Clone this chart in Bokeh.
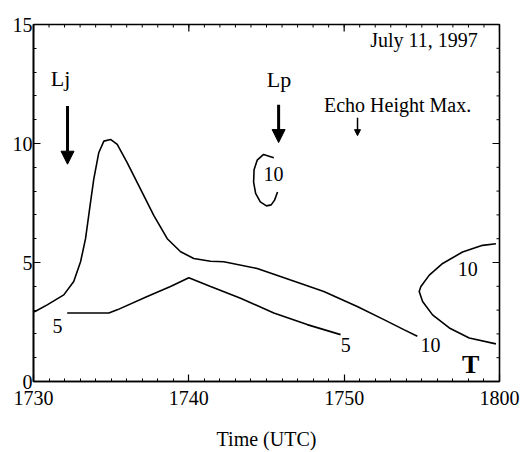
import math
from bokeh.plotting import figure
from bokeh.models import Range1d, FixedTicker, Arrow, NormalHead
from bokeh.core.properties import value
from bokeh.embed import file_html
from bokeh.resources import INLINE

# ---- data (x = minutes after 1730 UTC, y = height km) ----
x_ticks = [0, 10, 20, 30]
x_tick_labels = ["1730", "1740", "1750", "1800"]
y_ticks = [0, 5, 10, 15]
x_minor = list(range(0, 31))
y_minor = list(range(0, 16))

# outer "10" contour
c10_x = [0.0, 0.13, 0.88, 1.95, 2.59, 3.03, 3.35, 3.67, 3.88, 4.20, 4.53, 4.96, 5.39,
         6.03, 6.89, 7.75, 8.61, 9.47, 10.32, 11.40, 12.25, 14.40, 16.55, 18.69,
         20.84, 22.56, 23.84, 24.71]
c10_y = [2.92, 2.95, 3.22, 3.64, 4.20, 5.03, 6.00, 7.53, 8.50, 9.61, 10.10, 10.17, 9.96,
         9.20, 8.08, 6.97, 6.00, 5.45, 5.17, 5.05, 5.03, 4.75, 4.26, 3.78,
         3.15, 2.60, 2.18, 1.90]

# "5" contour
c5_x = [2.17, 4.85, 5.39, 7.32, 8.82, 10.00, 11.40, 13.33, 15.47, 17.62, 19.77]
c5_y = [2.88, 2.88, 3.01, 3.57, 3.99, 4.36, 3.99, 3.50, 2.88, 2.39, 1.97]

# right "10" contour
r10_x = [29.77, 28.91, 27.62, 26.34, 25.48, 24.94, 24.83, 25.05, 25.69, 26.77, 28.05, 29.77]
r10_y = [5.79, 5.72, 5.44, 4.96, 4.47, 3.99, 3.78, 3.36, 2.80, 2.25, 1.83, 1.58]

# small "10" contour
s10_x = [15.47, 14.81, 14.40, 14.20, 14.17, 14.30, 14.60, 15.00, 15.30, 15.52, 15.71]
s10_y = [9.40, 9.54, 9.30, 8.90, 8.38, 7.90, 7.55, 7.38, 7.42, 7.62, 7.96]

# contour labels
lab_x = [1.55, 20.10, 25.56, 27.95, 15.45]
lab_y = [2.33, 1.54, 1.54, 4.71, 8.71]
lab_text = ["5", "5", "10", "10", "10"]

# annotation texts
note_x = [1.74, 15.80]
note_y = [12.75, 12.67]
note_text = ["Lj", "Lp"]
echo_x, echo_y, echo_text = [23.44], [11.63], ["Echo Height Max."]
date_x, date_y, date_text = [28.6], [14.33], ["July 11, 1997"]
t_x, t_y, t_text = [28.14], [0.71], ["T"]

# arrows (x, y_start, y_end)
big_arrow_x = [2.19, 15.78]
big_arrow_y0 = [11.58, 11.63]
big_arrow_y1 = [9.13, 10.04]
small_arrow_x = [20.86]
small_arrow_y0 = [11.08]
small_arrow_y1 = [10.33]

FONT = "Liberation Serif"

p = figure(width=524, height=452, output_backend="svg", toolbar_location=None,
           x_range=Range1d(0, 30), y_range=Range1d(0, 15),
           min_border_left=33, min_border_right=25, min_border_top=24, min_border_bottom=68)
p.grid.visible = False
p.outline_line_color = "black"
p.outline_line_width = 1.6
p.background_fill_color = "white"
p.border_fill_color = "white"


def style(ax, ticks, minor):
    ax.ticker = FixedTicker(ticks=ticks, minor_ticks=minor)
    ax.major_tick_in = 7
    ax.major_tick_out = 0
    ax.minor_tick_in = 3
    ax.minor_tick_out = 0
    ax.axis_line_width = 1.6
    ax.axis_line_color = "black"
    ax.major_tick_line_color = "black"
    ax.minor_tick_line_color = "black"
    ax.major_tick_line_width = 1.2
    ax.minor_tick_line_width = 1
    ax.major_label_text_font = FONT
    ax.major_label_text_color = "black"
    ax.major_label_text_font_size = "20px"


xa = p.xaxis[0]
style(xa, x_ticks, x_minor)
xa.major_label_overrides = {t: l for t, l in zip(x_ticks, x_tick_labels)}
xa.major_label_standoff = 9
xa.axis_label = "Time (UTC)"
xa.axis_label_text_font = FONT
xa.axis_label_text_font_style = "normal"
xa.axis_label_text_font_size = "20px"
xa.axis_label_text_color = "black"
xa.axis_label_standoff = 20

ya = p.yaxis[0]
style(ya, y_ticks, y_minor)
ya.major_label_standoff = 1

# inward ticks on the top and right frame edges
p.ray(x=x_minor, y=[15] * len(x_minor), length=3, length_units="screen",
      angle=-math.pi / 2, line_color="black", line_width=1)
p.ray(x=x_ticks, y=[15] * len(x_ticks), length=7, length_units="screen",
      angle=-math.pi / 2, line_color="black", line_width=1.2)
p.ray(x=[30] * len(y_minor), y=y_minor, length=3, length_units="screen",
      angle=math.pi, line_color="black", line_width=1)
p.ray(x=[30] * len(y_ticks), y=y_ticks, length=7, length_units="screen",
      angle=math.pi, line_color="black", line_width=1.2)

for xs, ys in [(c10_x, c10_y), (c5_x, c5_y), (r10_x, r10_y), (s10_x, s10_y)]:
    p.line(xs, ys, line_color="black", line_width=1.6)

p.text(x=lab_x, y=lab_y, text=lab_text, text_font=value(FONT), text_font_size="20px",
       text_align="center", text_baseline="middle", text_color="black")

p.text(x=note_x, y=note_y, text=note_text, text_font=value(FONT), text_font_size="22px",
       text_align="center", text_baseline="middle", text_color="black")

p.text(x=echo_x, y=echo_y, text=echo_text, text_font=value(FONT), text_font_size="20px",
       text_align="center", text_baseline="middle", text_color="black")

p.text(x=date_x, y=date_y, text=date_text, text_font=value(FONT), text_font_size="20px",
       text_align="right", text_baseline="middle", text_color="black")

p.text(x=t_x, y=t_y, text=t_text, text_font=value(FONT), text_font_size="26px",
       text_font_style="bold", text_align="center", text_baseline="middle", text_color="black")

for ax_, y0, y1 in zip(big_arrow_x, big_arrow_y0, big_arrow_y1):
    p.add_layout(Arrow(end=NormalHead(size=13, fill_color="black", line_color="black"),
                       x_start=ax_, y_start=y0, x_end=ax_, y_end=y1,
                       line_width=3, line_color="black"))
for ax_, y0, y1 in zip(small_arrow_x, small_arrow_y0, small_arrow_y1):
    p.add_layout(Arrow(end=NormalHead(size=6, fill_color="black", line_color="black"),
                       x_start=ax_, y_start=y0, x_end=ax_, y_end=y1,
                       line_width=1.5, line_color="black"))

open("out.html", "w").write(file_html(p, INLINE))
